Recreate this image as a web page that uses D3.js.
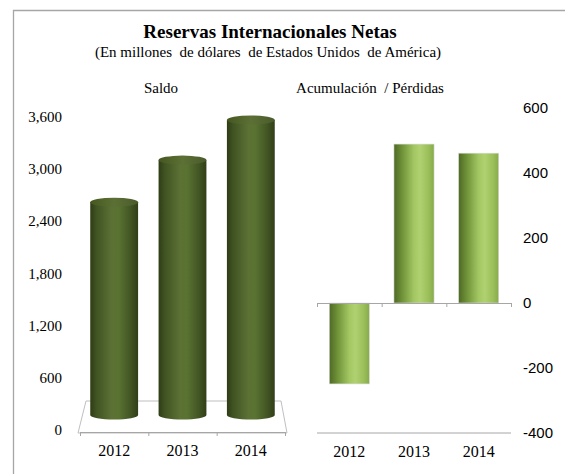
<!DOCTYPE html>
<html>
<head>
<meta charset="utf-8">
<script src="https://cdn.jsdelivr.net/npm/d3@7"></script>
<style>
  body { margin: 0; background: #fff; }
  text { font-family: "Liberation Serif", "Times New Roman", serif; fill: #000; }
</style>
</head>
<body>
<div id="chart"></div>
<script>
// data
const years = ["2012", "2013", "2014"];
const saldo = [2620, 3105, 3566];
const acumulacion = [-249, 489, 461];
const saldoTicks = [0, 600, 1200, 1800, 2400, 3000, 3600];
const acumTicks = [-400, -200, 0, 200, 400, 600];

let dim = { width: 565, height: 474 };

let svg = d3.select('#chart').append('svg')
    .attr('width', dim.width)
    .attr('height', dim.height);

let defs = svg.append('defs');

// dark olive cylinder shading
let gCyl = defs.append('linearGradient').attr('id', 'cyl').attr('x1', 0).attr('x2', 1).attr('y1', 0).attr('y2', 0);
[[0, '#2e3c16'], [0.12, '#3f5222'], [0.45, '#5c7135'], [0.6, '#597231'], [0.85, '#415423'], [1, '#313f18']]
    .forEach(s => gCyl.append('stop').attr('offset', s[0]).attr('stop-color', s[1]));

let gTop = defs.append('linearGradient').attr('id', 'cyltop').attr('x1', 0).attr('x2', 1).attr('y1', 0).attr('y2', 0);
[[0, '#45571f'], [0.5, '#5c7035'], [1, '#4a5b2b']]
    .forEach(s => gTop.append('stop').attr('offset', s[0]).attr('stop-color', s[1]));

// light green bar shading
let gBar = defs.append('linearGradient').attr('id', 'bar').attr('x1', 0).attr('x2', 1).attr('y1', 0).attr('y2', 0);
[[0, '#4e6a24'], [0.2, '#6f9138'], [0.5, '#a3c763'], [0.65, '#b0d170'], [0.85, '#9cc05c'], [1, '#86ab48']]
    .forEach(s => gBar.append('stop').attr('offset', s[0]).attr('stop-color', s[1]));

// frame
svg.append('path')
    .attr('d', 'M13.5,474 V10.5 H565')
    .attr('fill', 'none')
    .attr('stroke', '#a6a6a6')
    .attr('stroke-width', 1.3);

// titles
svg.append('text').attr('x', 270).attr('y', 38).attr('text-anchor', 'middle')
    .attr('font-weight', 'bold').attr('font-size', 19)
    .text('Reservas Internacionales Netas');
svg.append('text').attr('x', 268).attr('y', 57).attr('text-anchor', 'middle')
    .attr('font-size', 15).style('white-space', 'pre')
    .text('(En millones  de dólares  de Estados Unidos  de América)');
svg.append('text').attr('x', 161).attr('y', 93).attr('text-anchor', 'middle')
    .attr('font-size', 15).text('Saldo');
svg.append('text').attr('x', 370).attr('y', 93).attr('text-anchor', 'middle')
    .attr('font-size', 15).style('white-space', 'pre').text('Acumulación  / Pérdidas');

// ---- left chart: Saldo (3D cylinders) ----
let yL = d3.scaleLinear().domain([0, 3600]).range([430, 117]);
let xL = d3.scaleBand().domain(years).range([80, 285]).paddingInner(0.3).paddingOuter(0.15);
let depth = 15;

// floor
svg.append('path')
    .attr('d', `M78,433 L287,433 L281,401 L86,401 Z`)
    .attr('fill', '#fff')
    .attr('stroke', '#bfbfbf');

// axis labels
svg.append('g').selectAll('text')
    .data(saldoTicks).enter().append('text')
    .attr('x', 62).attr('y', d => yL(d) + 5)
    .attr('text-anchor', 'end').attr('font-size', 15)
    .text(d => d3.format(',')(d));

let axL = svg.append('g').attr('transform', 'translate(0,432)')
    .call(d3.axisBottom(d3.scalePoint().domain([0, 1, 2, 3]).range([80, 285])).tickSize(4).tickFormat(''));
axL.select('.domain').attr('stroke', '#a6a6a6');
axL.selectAll('.tick line').attr('stroke', '#a6a6a6');

svg.append('g').selectAll('text')
    .data(years).enter().append('text')
    .attr('x', d => xL(d) + xL.bandwidth() / 2).attr('y', 456)
    .attr('text-anchor', 'middle').attr('font-size', 16)
    .text(d => d);

let cyl = svg.append('g').selectAll('g')
    .data(years.map((y, i) => ({ y: y, v: saldo[i] })))
    .enter().append('g');
let rx = () => xL.bandwidth() / 2;
let ry = 4.5;
let baseY = yL(0) - depth;

cyl.append('path')
    .attr('d', d => {
        let cx = xL(d.y) + rx(), top = yL(d.v), r = rx();
        return `M${cx - r},${top} L${cx - r},${baseY} A${r},${ry} 0 0 0 ${cx + r},${baseY} L${cx + r},${top} Z`;
    })
    .attr('fill', 'url(#cyl)');
cyl.append('ellipse')
    .attr('cx', d => xL(d.y) + rx())
    .attr('cy', d => yL(d.v))
    .attr('rx', rx).attr('ry', ry)
    .attr('fill', 'url(#cyltop)');

// ---- right chart: Acumulación / Pérdidas ----
let yR = d3.scaleLinear().domain([-400, 600]).range([433, 108]);
let xR = d3.scaleBand().domain(years).range([317, 511]).paddingInner(0.38).paddingOuter(0.19);

svg.append('g').selectAll('text')
    .data(acumTicks).enter().append('text')
    .attr('x', 523).attr('y', d => yR(d) + 5)
    .attr('font-size', 15)
    .style('font-family', '"Liberation Sans", Arial, sans-serif')
    .text(d => d);

svg.append('line')
    .attr('x1', 317).attr('x2', 511)
    .attr('y1', yR(-400)).attr('y2', yR(-400))
    .attr('stroke', '#a6a6a6');

svg.append('g').selectAll('rect')
    .data(years.map((y, i) => ({ y: y, v: acumulacion[i] })))
    .enter().append('rect')
    .attr('x', d => xR(d.y))
    .attr('y', d => yR(Math.max(0, d.v)))
    .attr('width', xR.bandwidth())
    .attr('height', d => Math.abs(yR(d.v) - yR(0)))
    .attr('fill', 'url(#bar)')
    .attr('stroke', '#d9d9d9')
    .attr('stroke-width', 0.6);

let axR = svg.append('g').attr('transform', `translate(0,${yR(0)})`)
    .call(d3.axisBottom(d3.scalePoint().domain([0, 1, 2, 3]).range([317, 511])).tickSize(4).tickFormat(''));
axR.select('.domain').attr('stroke', '#a6a6a6');
axR.selectAll('.tick line').attr('stroke', '#a6a6a6');

svg.append('g').selectAll('text')
    .data(years).enter().append('text')
    .attr('x', d => xR(d) + xR.bandwidth() / 2).attr('y', 457)
    .attr('text-anchor', 'middle').attr('font-size', 16)
    .text(d => d);
</script>
</body>
</html>
